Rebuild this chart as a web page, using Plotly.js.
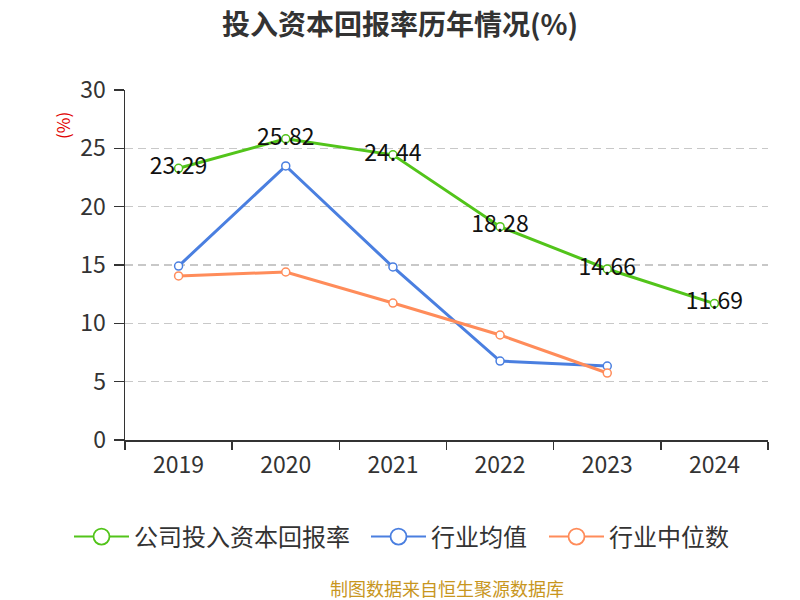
<!DOCTYPE html>
<html><head><meta charset="utf-8">
<script src="https://cdn.plot.ly/plotly-3.0.1.min.js"></script>
<style>body{margin:0}#c{width:800px;height:600px}</style>
</head><body><div id="c"></div>
<script>
var years = ['2019','2020','2021','2022','2023','2024'];
var companyROIC = [23.29, 25.82, 24.44, 18.28, 14.66, 11.69];
var industryAvg = [14.91, 23.49, 14.83, 6.77, 6.34, null];
var industryMedian = [14.06, 14.40, 11.74, 9.00, 5.74, null];
var companyLabels = ['23.29','25.82','24.44','18.28','14.66','11.69'];
var seriesNames = ['公司投入资本回报率','行业均值','行业中位数'];
var seriesColors = ['#52c41a','#4a7fe0','#ff8c5a'];

var F = '"Noto Sans CJK SC", "Noto Sans", sans-serif';
function mk(i, y){
  return {type:'scatter', mode:'lines+markers', name:seriesNames[i], x:years, y:y, showlegend:false,
    line:{color:seriesColors[i], width:3}, marker:{symbol:'circle', size:8, color:'#fff', line:{color:seriesColors[i], width:1.5}},
    connectgaps:false, cliponaxis:false, hoverinfo:'none'};
}
var legendIds = ['legend','legend2','legend3'];
function legendItem(i){
  return {type:'scatter', mode:'lines+markers', name:seriesNames[i], x:[null], y:[null], showlegend:true,
    legend:legendIds[i],
    line:{color:seriesColors[i], width:2}, marker:{symbol:'circle', size:16, color:'#fff', line:{color:seriesColors[i], width:1.8}},
    hoverinfo:'none'};
}
var data = [
  mk(0, companyROIC), mk(1, industryAvg), mk(2, industryMedian),
  {type:'scatter', mode:'text', x:years, y:companyROIC, text:companyLabels, textposition:'middle center',
   textfont:{family:F, size:23, color:'#111'}, showlegend:false, cliponaxis:false, hoverinfo:'none'},
  legendItem(0), legendItem(1), legendItem(2)
];
function lg(xpx){
  return {orientation:'h', xref:'container', yref:'container', x:xpx/800, xanchor:'left', y:(600-537)/600, yanchor:'middle',
    font:{family:F, size:24, color:'#333'}, itemwidth:55, bgcolor:'rgba(0,0,0,0)'};
}
var layout = {
  width:800, height:600, margin:{l:125, r:32, t:90, b:160},
  paper_bgcolor:'#fff', plot_bgcolor:'#fff',
  font:{family:F, color:'#333'},
  title:{text:'<b>投入资本回报率历年情况(%)</b>', x:0.5, xanchor:'center', y:0.958, yanchor:'middle', font:{family:F, size:28, color:'#333'}},
  xaxis:{type:'category', tickson:'boundaries', ticks:'outside', ticklen:8, tickcolor:'#333', tickwidth:1.5,
    showline:true, linecolor:'#333', linewidth:1.5, showgrid:false, tickfont:{family:F, size:23, color:'#333'}, range:[-0.5,5.5], ticklabelstandoff:4},
  yaxis:{range:[0,30], tickvals:[0,5,10,15,20,25,30], ticks:'outside', ticklen:10, tickcolor:'#333', tickwidth:1.5,
    showline:true, linecolor:'#333', linewidth:1.5, showgrid:true, gridcolor:'#c8c8c8', griddash:'8px,5px', gridwidth:1.5,
    zeroline:false, tickfont:{family:F, size:23, color:'#333'}, ticklabelstandoff:3},
  showlegend:true,
  legend:lg(69), legend2:lg(366), legend3:lg(544),
  annotations:[
    {text:'(%)', xref:'paper', yref:'paper', x:-0.098, y:0.9, xanchor:'center', yanchor:'middle', showarrow:false, textangle:-90, font:{family:F, size:17, color:'#e00000'}},
    {text:'制图数据来自恒生聚源数据库', xref:'paper', yref:'paper', x:0.5, y:-0.423, xanchor:'center', yanchor:'middle', showarrow:false, font:{family:F, size:18, color:'#c8961e'}}
  ]
};
Plotly.newPlot('c', data, layout, {displayModeBar:false, staticPlot:true});
</script></body></html>
